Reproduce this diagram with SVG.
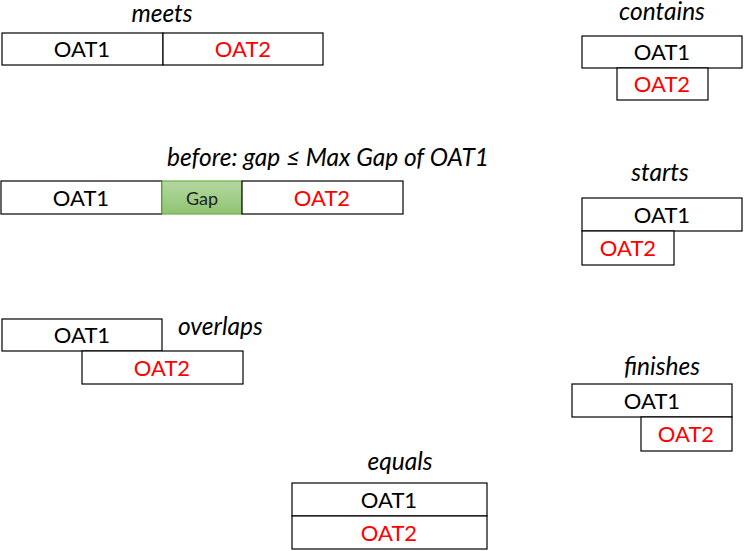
<svg xmlns="http://www.w3.org/2000/svg" width="744" height="551" viewBox="0 0 744 551">
<style>
.b{fill:#fff;stroke:#000;stroke-width:1.2}
.g{fill:url(#gg);stroke:#70ad47;stroke-width:1.2}
.t{font-family:Lato,"Liberation Sans",sans-serif;font-size:22px;text-anchor:middle;fill:#000}
.r{fill:#ff0000}
.l{font-family:Lato,"Liberation Sans",sans-serif;font-size:24.5px;font-style:italic;fill:#000}
.c{text-anchor:middle}
.gt{font-family:Lato,"Liberation Sans",sans-serif;font-size:18px;text-anchor:middle;fill:#222}
</style>
<defs>
<linearGradient id="gg" x1="0" y1="0" x2="0" y2="1">
<stop offset="0" stop-color="#b3d8a0"/>
<stop offset="1" stop-color="#8fc473"/>
</linearGradient>
</defs>
<g id="meets">
<text class="l c" x="162" y="22">meets</text>
<rect class="b" x="2" y="33" width="161" height="32"/>
<rect class="b" x="163" y="33" width="160" height="32"/>
<text class="t" x="82" y="57">OAT1</text>
<text class="t r" x="243" y="57">OAT2</text>
</g>
<g id="contains">
<text class="l c" x="662" y="20">contains</text>
<rect class="b" x="582" y="36" width="160" height="32"/>
<rect class="b" x="617" y="68" width="91" height="32"/>
<text class="t" x="662" y="60">OAT1</text>
<text class="t r" x="662" y="92">OAT2</text>
</g>
<g id="before">
<text class="l" x="167" y="166">before: gap ≤ Max Gap of OAT1</text>
<rect class="b" x="1" y="181" width="161" height="33"/>
<rect class="g" x="162" y="181" width="80" height="33"/>
<rect class="b" x="242" y="181" width="161" height="33"/>
<text class="t" x="81" y="206">OAT1</text>
<text class="gt" x="202" y="205">Gap</text>
<text class="t r" x="322" y="206">OAT2</text>
</g>
<g id="starts">
<text class="l c" x="660" y="181">starts</text>
<rect class="b" x="582" y="198" width="160" height="33"/>
<rect class="b" x="582" y="231" width="92" height="34"/>
<text class="t" x="662" y="223">OAT1</text>
<text class="t r" x="628" y="256">OAT2</text>
</g>
<g id="overlaps">
<text class="l" x="178" y="335">overlaps</text>
<rect class="b" x="2" y="319" width="160" height="32"/>
<rect class="b" x="82" y="351" width="161" height="33"/>
<text class="t" x="82" y="343">OAT1</text>
<text class="t r" x="162" y="376">OAT2</text>
</g>
<g id="finishes">
<text class="l c" x="662" y="375">finishes</text>
<rect class="b" x="572" y="384" width="160" height="33"/>
<rect class="b" x="641" y="417" width="91" height="34"/>
<text class="t" x="652" y="409">OAT1</text>
<text class="t r" x="686" y="442">OAT2</text>
</g>
<g id="equals">
<text class="l c" x="400" y="470">equals</text>
<rect class="b" x="292" y="483" width="195" height="33"/>
<rect class="b" x="292" y="516" width="195" height="33"/>
<text class="t" x="389" y="508">OAT1</text>
<text class="t r" x="389" y="541">OAT2</text>
</g>
<g id="connectors"/>
</svg>
